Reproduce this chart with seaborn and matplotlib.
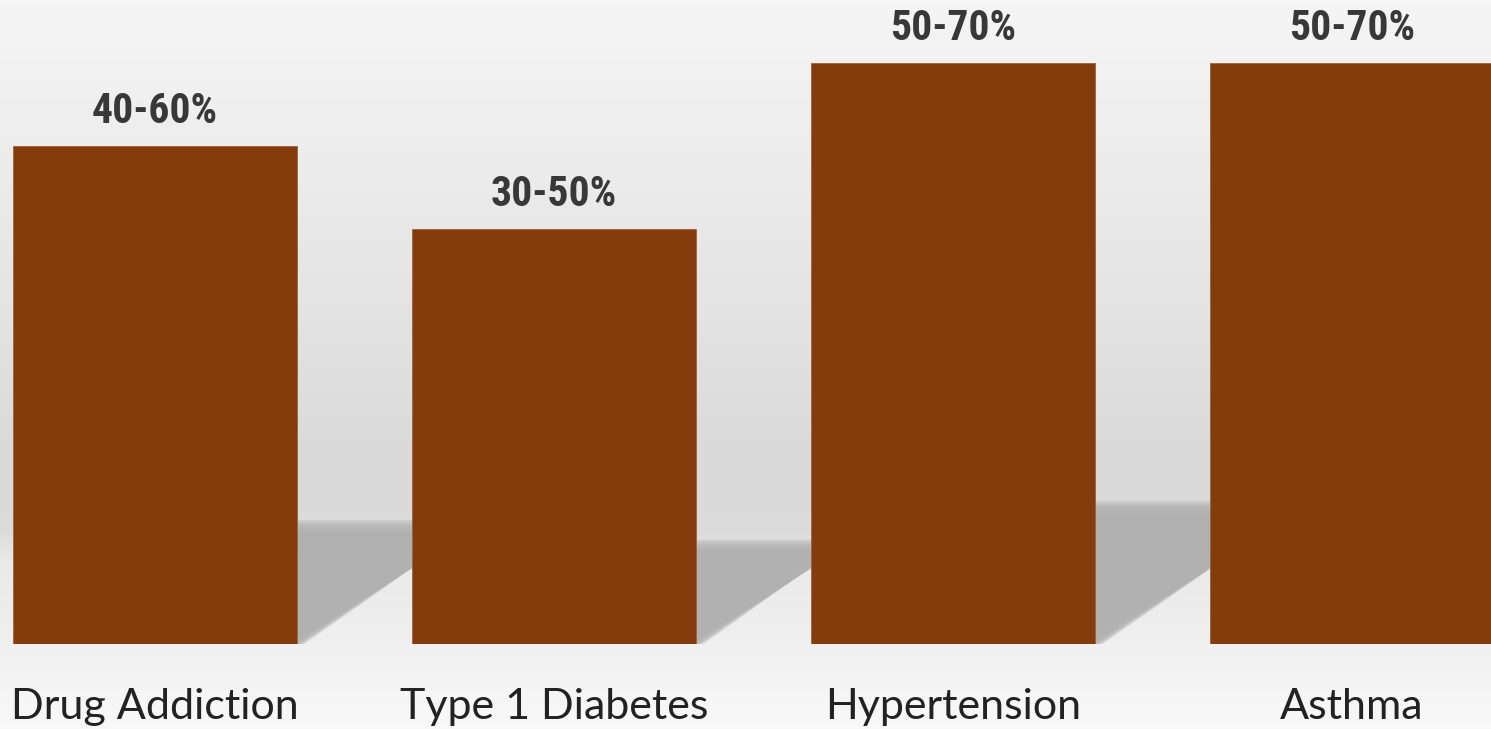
import numpy as np
import pandas as pd
import matplotlib
matplotlib.use("Agg")
import matplotlib.pyplot as plt
import seaborn as sns
from matplotlib.patches import Polygon

# data
conditions = ["Drug Addiction", "Type 1 Diabetes", "Hypertension", "Asthma"]
range_labels = ["40-60%", "30-50%", "50-70%", "50-70%"]
upper_values = [60, 50, 70, 70]

df = pd.DataFrame({"Condition": conditions, "Heritability": upper_values})

sns.set_style("white")
plt.rcParams['font.family'] = ['Lato', 'DejaVu Sans']

W, H = 1491, 729
fig = plt.figure(figsize=(W / 100, H / 100), dpi=100)

# background gradient (whole figure)
bg = fig.add_axes([0, 0, 1, 1], zorder=0)
ys = np.arange(H)
stops_y = [0, 150, 300, 450, 530, 560, 640, 700, 729]
stops_v = [0.962, 0.93, 0.895, 0.855, 0.86, 0.915, 0.94, 0.965, 0.975]
grad = np.interp(ys, stops_y, stops_v)
img = np.repeat(grad[:, None, None], 3, axis=2)
bg.imshow(img, aspect="auto", extent=[0, 1, 0, 1], origin="upper")
bg.axis("off")

# main axes
bottom = (H - 644) / H
ax = fig.add_axes([0, bottom, 1, 1 - bottom], zorder=1)
ax.patch.set_alpha(0)

sns.barplot(data=df, x="Condition", y="Heritability", color="#843C0C",
            saturation=1, width=0.71, ax=ax, zorder=2,
            edgecolor="#a0603a", linewidth=0.6)

ax.set_xlim(-0.388, 3.348)
ax.set_ylim(0, 644 / 8.3)

# soft floor shadows cast to the right of each bar
px_x = 399.0   # pixels per category
px_y = 8.3     # pixels per value unit
for bar in ax.patches:
    x1 = bar.get_x() + bar.get_width()
    h = bar.get_height()
    sh = 0.233 * h
    s = sh * px_y / 0.66 / px_x
    offsets = np.linspace(-8, 6, 9)
    for d in offsets:
        ex, ey = -d / px_x, -d / px_y
        poly = Polygon([(x1 - 0.1, 0), (x1 + ex, 0), (x1 + s + ex, sh + ey),
                        (x1 - 0.1, sh + ey)], closed=True,
                       facecolor="#b0b0b0", edgecolor="none", alpha=0.3,
                       zorder=1)
        ax.add_patch(poly)

# value labels
for i, bar in enumerate(ax.patches[:len(conditions)]):
    ax.annotate(range_labels[i],
                (bar.get_x() + bar.get_width() / 2, bar.get_height()),
                xytext=(0, 16.5), textcoords="offset points",
                ha="center", va="baseline", fontsize=30, fontweight="bold",
                fontstretch="condensed", color="#383838",
                family=["Roboto Condensed", "Liberation Sans Narrow",
                        "Roboto", "DejaVu Sans"])

ax.set_xlabel("")
ax.set_ylabel("")
ax.set_yticks([])
ax.tick_params(axis="x", length=0, pad=32, labelsize=31, labelcolor="#222222")
for sp in ax.spines.values():
    sp.set_visible(False)

fig.savefig("out.png", dpi=100)
